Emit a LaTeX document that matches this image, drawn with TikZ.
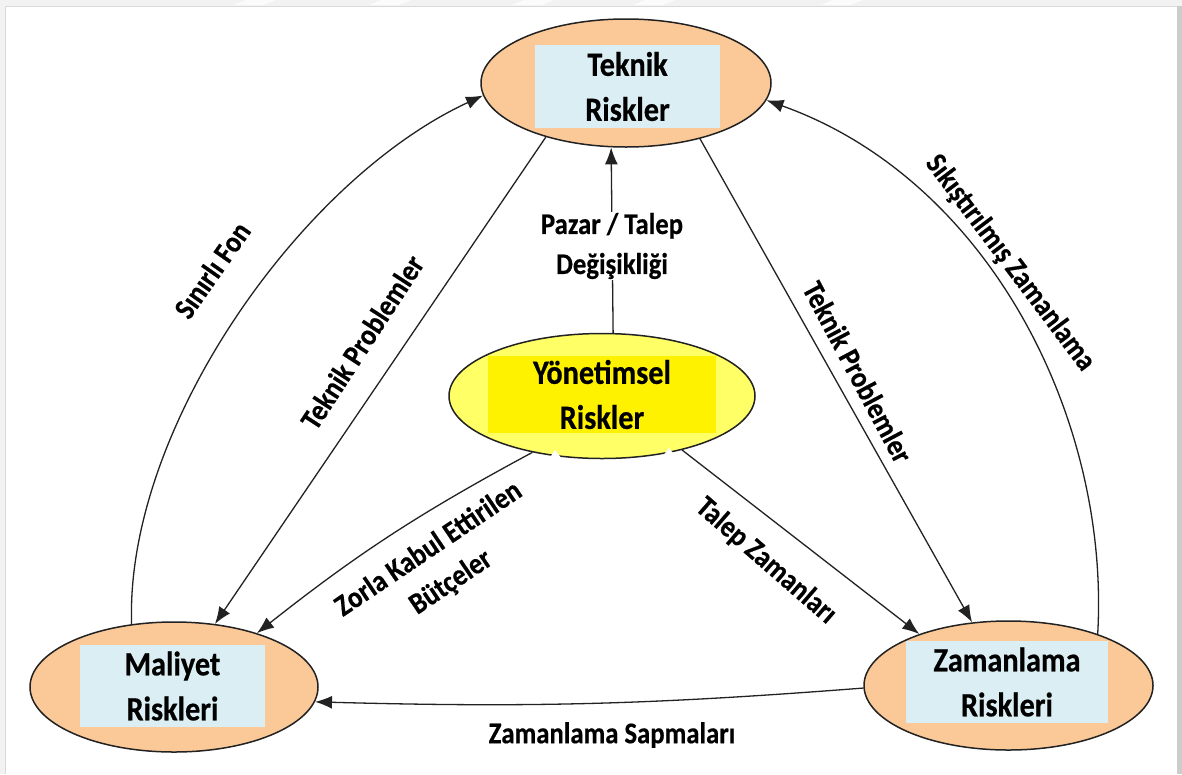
\documentclass[tikz,border=0pt]{standalone}
\usepackage{fontspec}
\usetikzlibrary{arrows.meta,shapes.geometric}
\newfontfamily\carl{Carlito}[FakeStretch=0.89, BoldFeatures={FakeBold=0.5}]
\newcommand\riskfont{\carl\bfseries\fontsize{34}{45}\selectfont}
\newcommand\edgefont{\carl\bfseries\fontsize{30}{40}\selectfont}
\definecolor{peach}{HTML}{FBC998}
\definecolor{paleblue}{HTML}{DAEEF3}
\definecolor{paleyellow}{HTML}{FFFF66}
\definecolor{inkline}{HTML}{222222}
\begin{document}
\begin{tikzpicture}[x=1pt,y=-1pt,
  riskell/.style={ellipse, draw=inkline, line width=1.5pt, fill=peach, inner sep=0pt},
  riskbox/.style={fill=paleblue, align=center, inner sep=0pt, font=\riskfont},
  conn/.style={draw=inkline, line width=1.3pt, -{Latex[length=17pt,width=13pt]}},
  edgelbl/.style={align=center, font=\edgefont, inner sep=1pt}]
\useasboundingbox (0,0) rectangle (1182,774);

% page frame
\fill[gray!10] (0,0) rectangle (1182,774);
\fill[white] (5,6) rectangle (1177,774);
\draw[gray!30, line width=0.6pt] (5,774) -- (5,6) -- (1177,6);
\fill[gray!40] (1177,6) rectangle (1182,774);
\foreach \px in {234,369,512,633,821}
  \fill[gray!3] (\px,5) -- (\px+12,0) -- (\px+42,0) -- (\px+30,5) -- cycle;

% risk areas
\node[riskell, minimum width=290pt, minimum height=128pt] (tek) at (626,83) {};
\node[riskbox, minimum width=185pt, minimum height=83pt] (tekbox) at (627.5,86.5) {Teknik\\Riskler};

\node[riskell, fill=paleyellow, minimum width=306pt, minimum height=125pt] (yon) at (602,396) {};
\node[riskbox, fill=yellow, minimum width=228pt, minimum height=77pt] (yonbox) at (602,394.5) {Yönetimsel\\Riskler};

\node[riskell, minimum width=288pt, minimum height=130pt] (mal) at (174,687) {};
\node[riskbox, minimum width=185pt, minimum height=82pt] (malbox) at (172.5,686) {Maliyet\\Riskleri};

\node[riskell, minimum width=289pt, minimum height=129pt] (zam) at (1008.5,685.5) {};
\node[riskbox, minimum width=202pt, minimum height=82pt] (zambox) at (1007,682) {Zamanlama\\Riskleri};

% notches on the lower rim of the central ellipse
\fill[white] (549,459) -- (555,450) -- (562,459) -- cycle;
\fill[white] (662,457) -- (669,448) -- (676,457) -- cycle;

% connectors
\draw[conn] (mal.124.5) .. controls (125,430) and (300,180) .. (tek.185.5);
\draw[conn] (tek.214) -- (mal.57);
\draw[conn] (yon.80.8) -- (tek.257.7);
\draw[conn] (tek.323.5) -- (zam.120.7);
\draw[conn] (zam.30.6) .. controls (1110,420) and (990,180) .. (tek.353.3);
\draw[conn] (yon.219.3) to[bend right=5] (mal.33);
\draw[conn] (yon.326) -- (zam.150.4);
\draw[conn] (zam.181) to[bend left=3] (mal.354.8);

% connector labels
\node[edgelbl, fill=white] (pazar) at (612,246) {Pazar / Talep\\Değişikliği};
\node[edgelbl, rotate=55] (fon) at (212,270) {Sınırlı Fon};
\node[edgelbl, rotate=57] (tpl) at (362,342) {Teknik Problemler};
\node[edgelbl, rotate=-62] (tpr) at (858,372) {Teknik Problemler};
\node[edgelbl, rotate=-53] (sik) at (1010,263) {Sıkıştırılmış Zamanlama};
\node[edgelbl, rotate=34] (zorla) at (440,566) {Zorla Kabul Ettirilen\\Bütçeler};
\node[edgelbl, rotate=-41] (talep) at (766,561) {Talep Zamanları};
\node[edgelbl] (sapma) at (612,735) {Zamanlama Sapmaları};
\end{tikzpicture}
\end{document}
